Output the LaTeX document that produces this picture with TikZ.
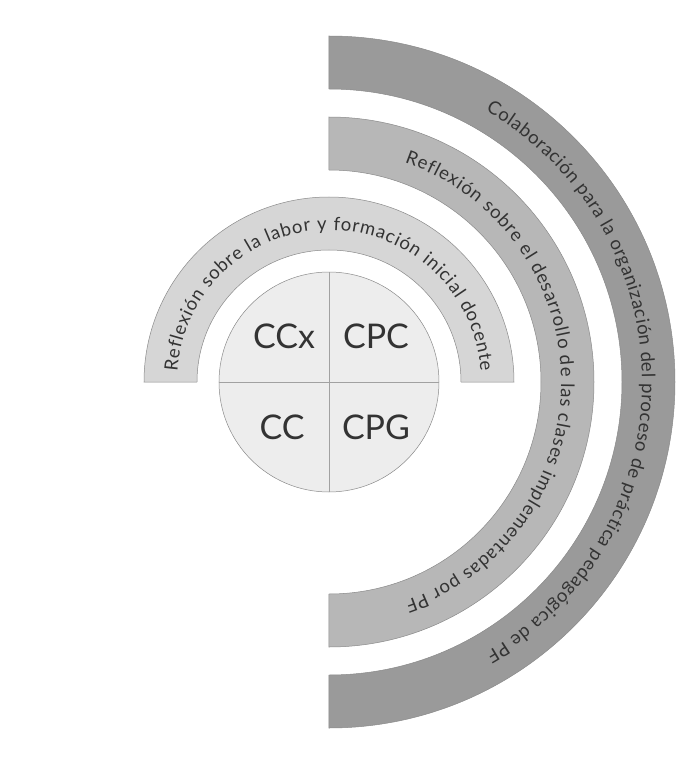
\documentclass[tikz,border=0pt]{standalone}
\usepackage{fontspec}
\setmainfont{Lato}
\usetikzlibrary{decorations.text}
\definecolor{outerband}{HTML}{9A9A9A}
\definecolor{midband}{HTML}{B7B7B7}
\definecolor{innerband}{HTML}{D6D6D6}
\definecolor{corefill}{HTML}{EDEDED}
\definecolor{bordergray}{HTML}{8A8A8A}
\definecolor{labelgray}{HTML}{333333}
\newcommand\arcfont{\fontsize{18.5}{21}\selectfont}
\begin{document}
\begin{tikzpicture}[x=1pt,y=1pt,
  band/.style={draw=bordergray, line width=0.5pt},
  divider/.style={draw=bordergray!80, line width=0.5pt},
  corelabel/.style={text=labelgray, font=\fontsize{34}{38}\selectfont, inner sep=0pt},
  arctext/.style={decorate, decoration={text along path, text color=labelgray,
     text align=fit to path, text={|\arcfont|#1}}}]
\useasboundingbox (-329,-384) rectangle (367,382);
\coordinate (c) at (0,0);
% outer band
\path[band, fill=outerband] (90:346) arc[start angle=90, end angle=-90, radius=346]
  -- (-90:293) arc[start angle=-90, end angle=90, radius=293] -- cycle;
% middle band
\path[band, fill=midband] (90:265) arc[start angle=90, end angle=-90, radius=265]
  -- (-90:212) arc[start angle=-90, end angle=90, radius=212] -- cycle;
% inner band
\path[band, fill=innerband] (180:185) arc[start angle=180, end angle=0, radius=185]
  -- (0:132) arc[start angle=0, end angle=180, radius=132] -- cycle;
% core circle
\node[circle, draw=bordergray, line width=0.5pt, fill=corefill, minimum size=220pt, inner sep=0pt] (core) at (c) {};
\draw[divider] (core.north) -- (core.south);
\draw[divider] (core.west) -- (core.east);
\node[corelabel] (ccx) at (-45,46) {CCx};
\node[corelabel] (cpc) at (47,46) {CPC};
\node[corelabel] (cc) at (-47,-45) {CC};
\node[corelabel] (cpg) at (47,-45) {CPG};
% arc texts
\path[arctext={Reflexión sobre la labor y formación inicial docente}]
  (176:152) arc[start angle=176, end angle=4, radius=152];
\path[arctext={Reflexión sobre el desarrollo de las clases implementadas por PF}]
  (71:232) arc[start angle=71, end angle=-71, radius=232];
\path[arctext={Colaboración para la organización del proceso de práctica pedagógica de PF}]
  (60:313) arc[start angle=60, end angle=-60, radius=313];
\end{tikzpicture}
\end{document}
